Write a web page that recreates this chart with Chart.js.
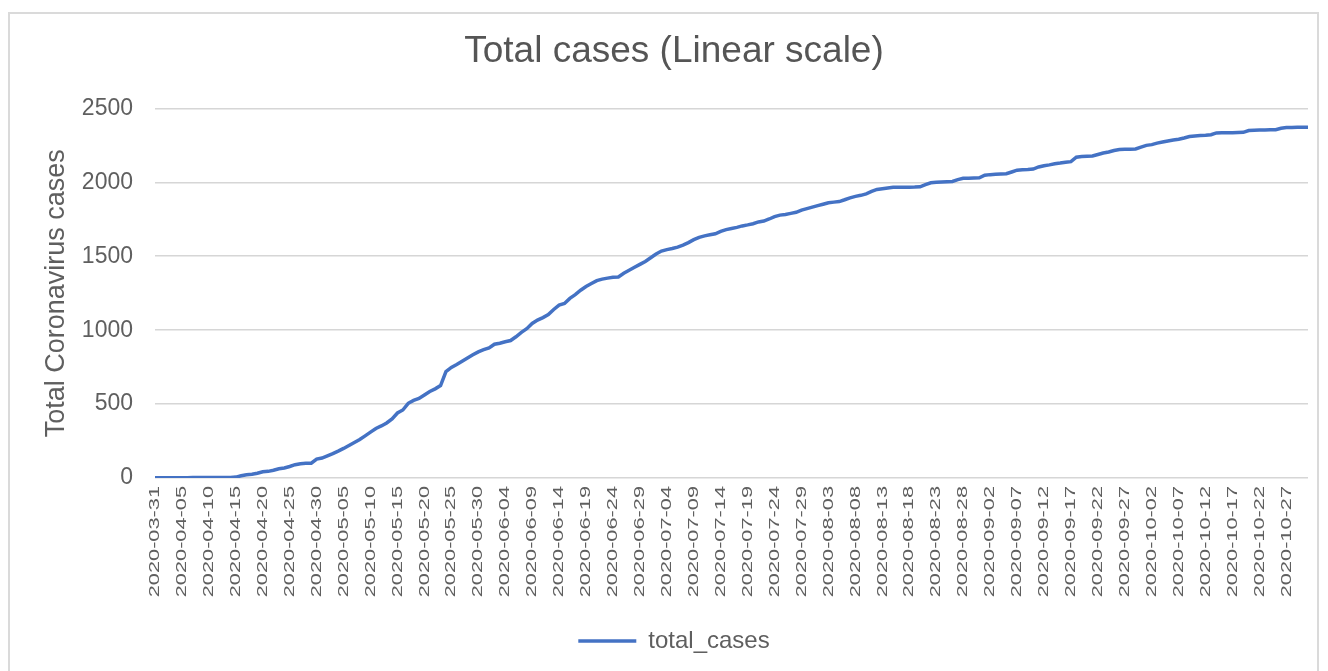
<!DOCTYPE html>
<html>
<head>
<meta charset="utf-8">
<title>Total cases (Linear scale)</title>
<script src="https://cdn.jsdelivr.net/npm/chart.js@4.4.1/dist/chart.umd.min.js"></script>
<style>
  html, body { margin: 0; padding: 0; background: #fff; overflow: hidden; }
  #frame {
    position: absolute; left: 8px; top: 12px; width: 1311px; height: 700px;
    border: 2px solid #dadada; box-sizing: border-box;
  }
  #CasesChart { position: absolute; left: 0; top: 0; }
</style>
</head>
<body>
<div id="frame"></div>
<canvas id="CasesChart" width="1328" height="671"></canvas>
<script>
// first day of the series, one value per day after it
const startDay = "2020-03-31";

// total cases (31 Mar .. 31 Oct 2020)
const casesMarApr = [1,
  1, 1, 2, 2, 2, 2, 3, 3, 3, 3, 3, 4, 4, 4, 6,
  15, 22, 25, 32, 42, 45, 52, 62, 68, 78, 90, 97, 99, 100, 128];
const casesMay = [135, 150, 165, 182, 200, 220, 240, 260, 285, 310, 335, 352, 372, 400, 440, 460,
  505, 525, 538, 562, 585, 603, 625, 720, 748, 768, 790, 812, 833, 853, 868];
const casesJun = [880, 905, 912, 922, 930, 955, 985, 1010, 1045, 1068, 1085, 1105, 1140, 1170, 1180,
  1215, 1240, 1270, 1295, 1315, 1335, 1345, 1352, 1358, 1360, 1385, 1405, 1425, 1445, 1465];
const casesJul = [1490, 1515, 1535, 1545, 1552, 1562, 1575, 1592, 1612, 1628, 1638, 1645, 1652, 1668, 1680, 1688,
  1695, 1705, 1712, 1720, 1732, 1738, 1752, 1768, 1778, 1783, 1790, 1797, 1812, 1822, 1832];
const casesAug = [1842, 1852, 1862, 1866, 1870, 1882, 1895, 1905, 1912, 1922, 1938, 1952, 1957, 1962, 1966, 1967,
  1967, 1967, 1968, 1970, 1985, 1997, 2000, 2002, 2004, 2006, 2018, 2027, 2028, 2029, 2030];
const casesSep = [2048, 2052, 2054, 2056, 2058, 2070, 2082, 2085, 2087, 2090, 2104, 2112, 2118, 2125, 2130,
  2136, 2140, 2170, 2174, 2176, 2178, 2188, 2198, 2205, 2215, 2222, 2223, 2224, 2226, 2238];
const casesOct = [2250, 2255, 2265, 2273, 2280, 2286, 2291, 2300, 2310, 2314, 2316, 2318, 2322, 2334, 2335, 2335,
  2336, 2337, 2338, 2350, 2353, 2354, 2354, 2355, 2356, 2366, 2370, 2371, 2372, 2372, 2373];

const totalCases = [].concat(casesMarApr, casesMay, casesJun, casesJul, casesAug, casesSep, casesOct);

// y axis
const yTicks = [0, 500, 1000, 1500, 2000, 2500];
// a date label is written under every 5th day
const labelEvery = 5;

// day labels yyyy-mm-dd
const dayLabels = [];
const d0 = new Date(startDay + "T00:00:00Z");
for (let i = 0; i < totalCases.length; i++) {
    const d = new Date(d0.getTime() + i * 86400000);
    dayLabels.push(d.toISOString().slice(0, 10));
}

const FONT = "'Liberation Sans', Arial, sans-serif";
const GREY = "#5f5f5f";
const BLUE = "#4472c4";

// the date labels in the picture are drawn tall and thin,
// so stretch them along their length when the x axis draws them
const tallLabels = {
    id: "tallLabels",
    afterUpdate(chart) {
        const scale = chart.scales.x;
        if (!scale || scale._tall) return;
        const orig = scale.drawLabels;
        scale.drawLabels = function (area) {
            const c = chart.ctx;
            const y0 = this.top + this.options.ticks.padding;
            c.save();
            c.translate(0, y0);
            c.scale(1, 1.45);
            c.translate(0, -y0);
            orig.call(this, area);
            c.restore();
        };
        scale._tall = true;
    },
};

const ctx = document.getElementById("CasesChart");
new Chart(ctx, {
    type: "line",
    data: {
        labels: dayLabels,
        datasets: [
            {
                label: "total_cases",
                data: totalCases,
                borderColor: BLUE,
                backgroundColor: BLUE,
                borderWidth: 3.5,
                pointRadius: 0,
                tension: 0,
            },
        ],
    },
    options: {
        responsive: false,
        animation: false,
        devicePixelRatio: 1,
        layout: {
            padding: { top: 12, left: 40, right: 20, bottom: 8 },
        },
        plugins: {
            title: {
                display: true,
                text: "Total cases (Linear scale)",
                color: "#555",
                font: { family: FONT, size: 37, weight: "normal" },
                padding: { top: 18, bottom: 34 },
            },
            legend: {
                position: "bottom",
                labels: {
                    color: GREY,
                    font: { family: FONT, size: 24 },
                    usePointStyle: true,
                    pointStyle: "line",
                    pointStyleWidth: 58,
                    padding: 10,
                },
            },
            tooltip: { enabled: false },
        },
        scales: {
            x: {
                offset: false,
                grid: { display: false, drawTicks: false },
                border: { display: false },
                ticks: {
                    autoSkip: false,
                    minRotation: 90,
                    maxRotation: 90,
                    padding: 8,
                    color: GREY,
                    font: { family: FONT, size: 15 },
                    callback: (v, i) => (i % labelEvery === 0 ? dayLabels[i] : null),
                },
                afterFit: (s) => { s.height = 141; },
            },
            y: {
                min: yTicks[0],
                max: yTicks[yTicks.length - 1],
                border: { display: false },
                grid: { color: "#d6d6d6", lineWidth: 1.5, drawTicks: false },
                ticks: {
                    stepSize: yTicks[1] - yTicks[0],
                    padding: 22,
                    color: GREY,
                    font: { family: FONT, size: 23 },
                    callback: (v) => String(v),
                },
                title: {
                    display: true,
                    text: "Total Coronavirus cases",
                    color: GREY,
                    font: { family: FONT, size: 27 },
                    padding: 0,
                },
                afterFit: (s) => { s.width = 115; },
            },
        },
    },
    plugins: [tallLabels],
});
</script>
</body>
</html>
